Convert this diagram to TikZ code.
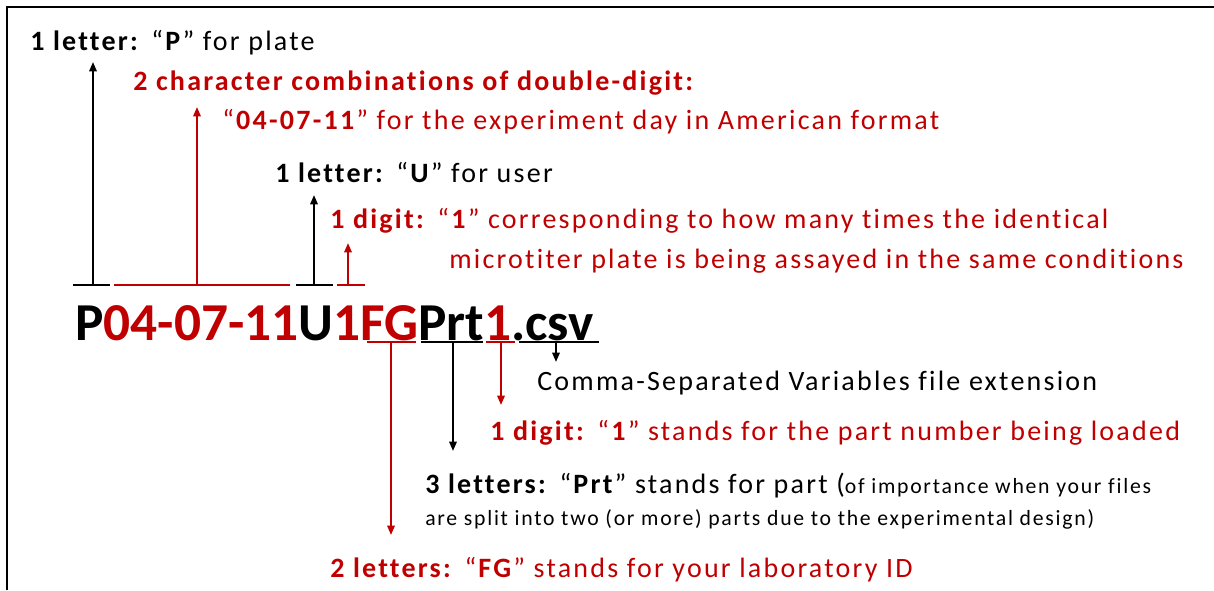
\documentclass[tikz,border=0pt]{standalone}
\usepackage{fontspec}
\setmainfont{Carlito}[LetterSpace=8,Ligatures=NoCommon]
\newfontfamily\fnfont{Carlito}
\usetikzlibrary{arrows.meta}
\definecolor{dred}{HTML}{C00000}
\newcommand{\smalltxt}{\fontsize{16.3}{20}\selectfont}
\begin{document}
\begin{tikzpicture}[x=0.75pt,y=-0.75pt,
  lbl/.style={anchor=base west,inner sep=0pt,font=\fontsize{21}{25}\selectfont},
  sml/.style={font=\smalltxt},
  fname/.style={anchor=base west,inner sep=0pt,font=\fnfont\fontsize{40}{48}\selectfont\bfseries},
  ul/.style={line width=2pt},
  arr/.style={line width=1.5pt,-{Triangle[length=7pt,width=5.5pt]}},
]
\useasboundingbox (0,0) rectangle (1214,590);
% frame
\draw[line width=2pt] (7,590) -- (7,7) -- (1214,7);

% texts above
\node[lbl] (t1) at (30,50) {\textbf{1 letter:} “\textbf{P}” for plate};
\node[lbl,text=dred] (t2) at (133,90) {\textbf{2 character combinations of double-digit:}};
\node[lbl,text=dred] (t3) at (222,129) {“\textbf{04-07-11}” for the experiment day in American format};
\node[lbl] (t4) at (275,182) {\textbf{1 letter:} “\textbf{U}” for user};
\node[lbl,text=dred] (t5) at (330,228) {\textbf{1 digit:} “\textbf{1}” corresponding to how many times the identical};
\node[lbl,text=dred] (t6) at (449,268) {microtiter plate is being assayed in the same conditions};

% filename
\node[fname] (fn) at (75,340) {P\textcolor{dred}{04-07-11}U\textcolor{dred}{1FG}Prt\textcolor{dred}{1}.csv};

% texts below
\node[lbl] (t7) at (537,390) {Comma-Separated Variables file extension};
\node[lbl,text=dred] (t8) at (490,440) {\textbf{1 digit:} “\textbf{1}” stands for the part number being loaded};
\node[lbl] (t9) at (425,493) {\textbf{3 letters:} “\textbf{Prt}” stands for part ({\smalltxt of importance when your files}};
\node[lbl,sml] (t10) at (425,525) {are split into two (or more) parts due to the experimental design)};
\node[lbl,text=dred] (t11) at (330,577) {\textbf{2 letters:} “\textbf{FG}” stands for your laboratory ID};

% coordinates: underline midpoints and arrow tips
\coordinate (uP) at (93,285);   \coordinate (aP) at (93,62);
\coordinate (uD) at (197,285);  \coordinate (aD) at (197,107);
\coordinate (uU) at (314,285);  \coordinate (aU) at (314,195);
\coordinate (u1) at (348,285);  \coordinate (a1) at (348,243);
\coordinate (uFG) at (391,342); \coordinate (aFG) at (391,535);
\coordinate (uPrt) at (453,342);\coordinate (aPrt) at (453,451);
\coordinate (uN) at (501,342);  \coordinate (aN) at (501,405);
\coordinate (uC) at (556,342);  \coordinate (aC) at (556,362);

% upper underlines
\draw[ul] (73,285) -- (110,285);
\draw[ul,dred] (114,285) -- (290,285);
\draw[ul] (296,285) -- (333,285);
\draw[ul,dred] (337,285) -- (365,285);
% lower underlines
\draw[ul,dred] (367,342) -- (416,342);
\draw[ul] (421,342) -- (483,342);
\draw[ul,dred] (486,342) -- (515,342);
\draw[ul] (519,342) -- (599,342);

% arrows
\draw[arr] (uP) -- (aP);
\draw[arr,dred] (uD) -- (aD);
\draw[arr] (uU) -- (aU);
\draw[arr,dred] (u1) -- (a1);
\draw[arr,dred] (uFG) -- (aFG);
\draw[arr] (uPrt) -- (aPrt);
\draw[arr,dred] (uN) -- (aN);
\draw[arr] (uC) -- (aC);
\end{tikzpicture}
\end{document}
